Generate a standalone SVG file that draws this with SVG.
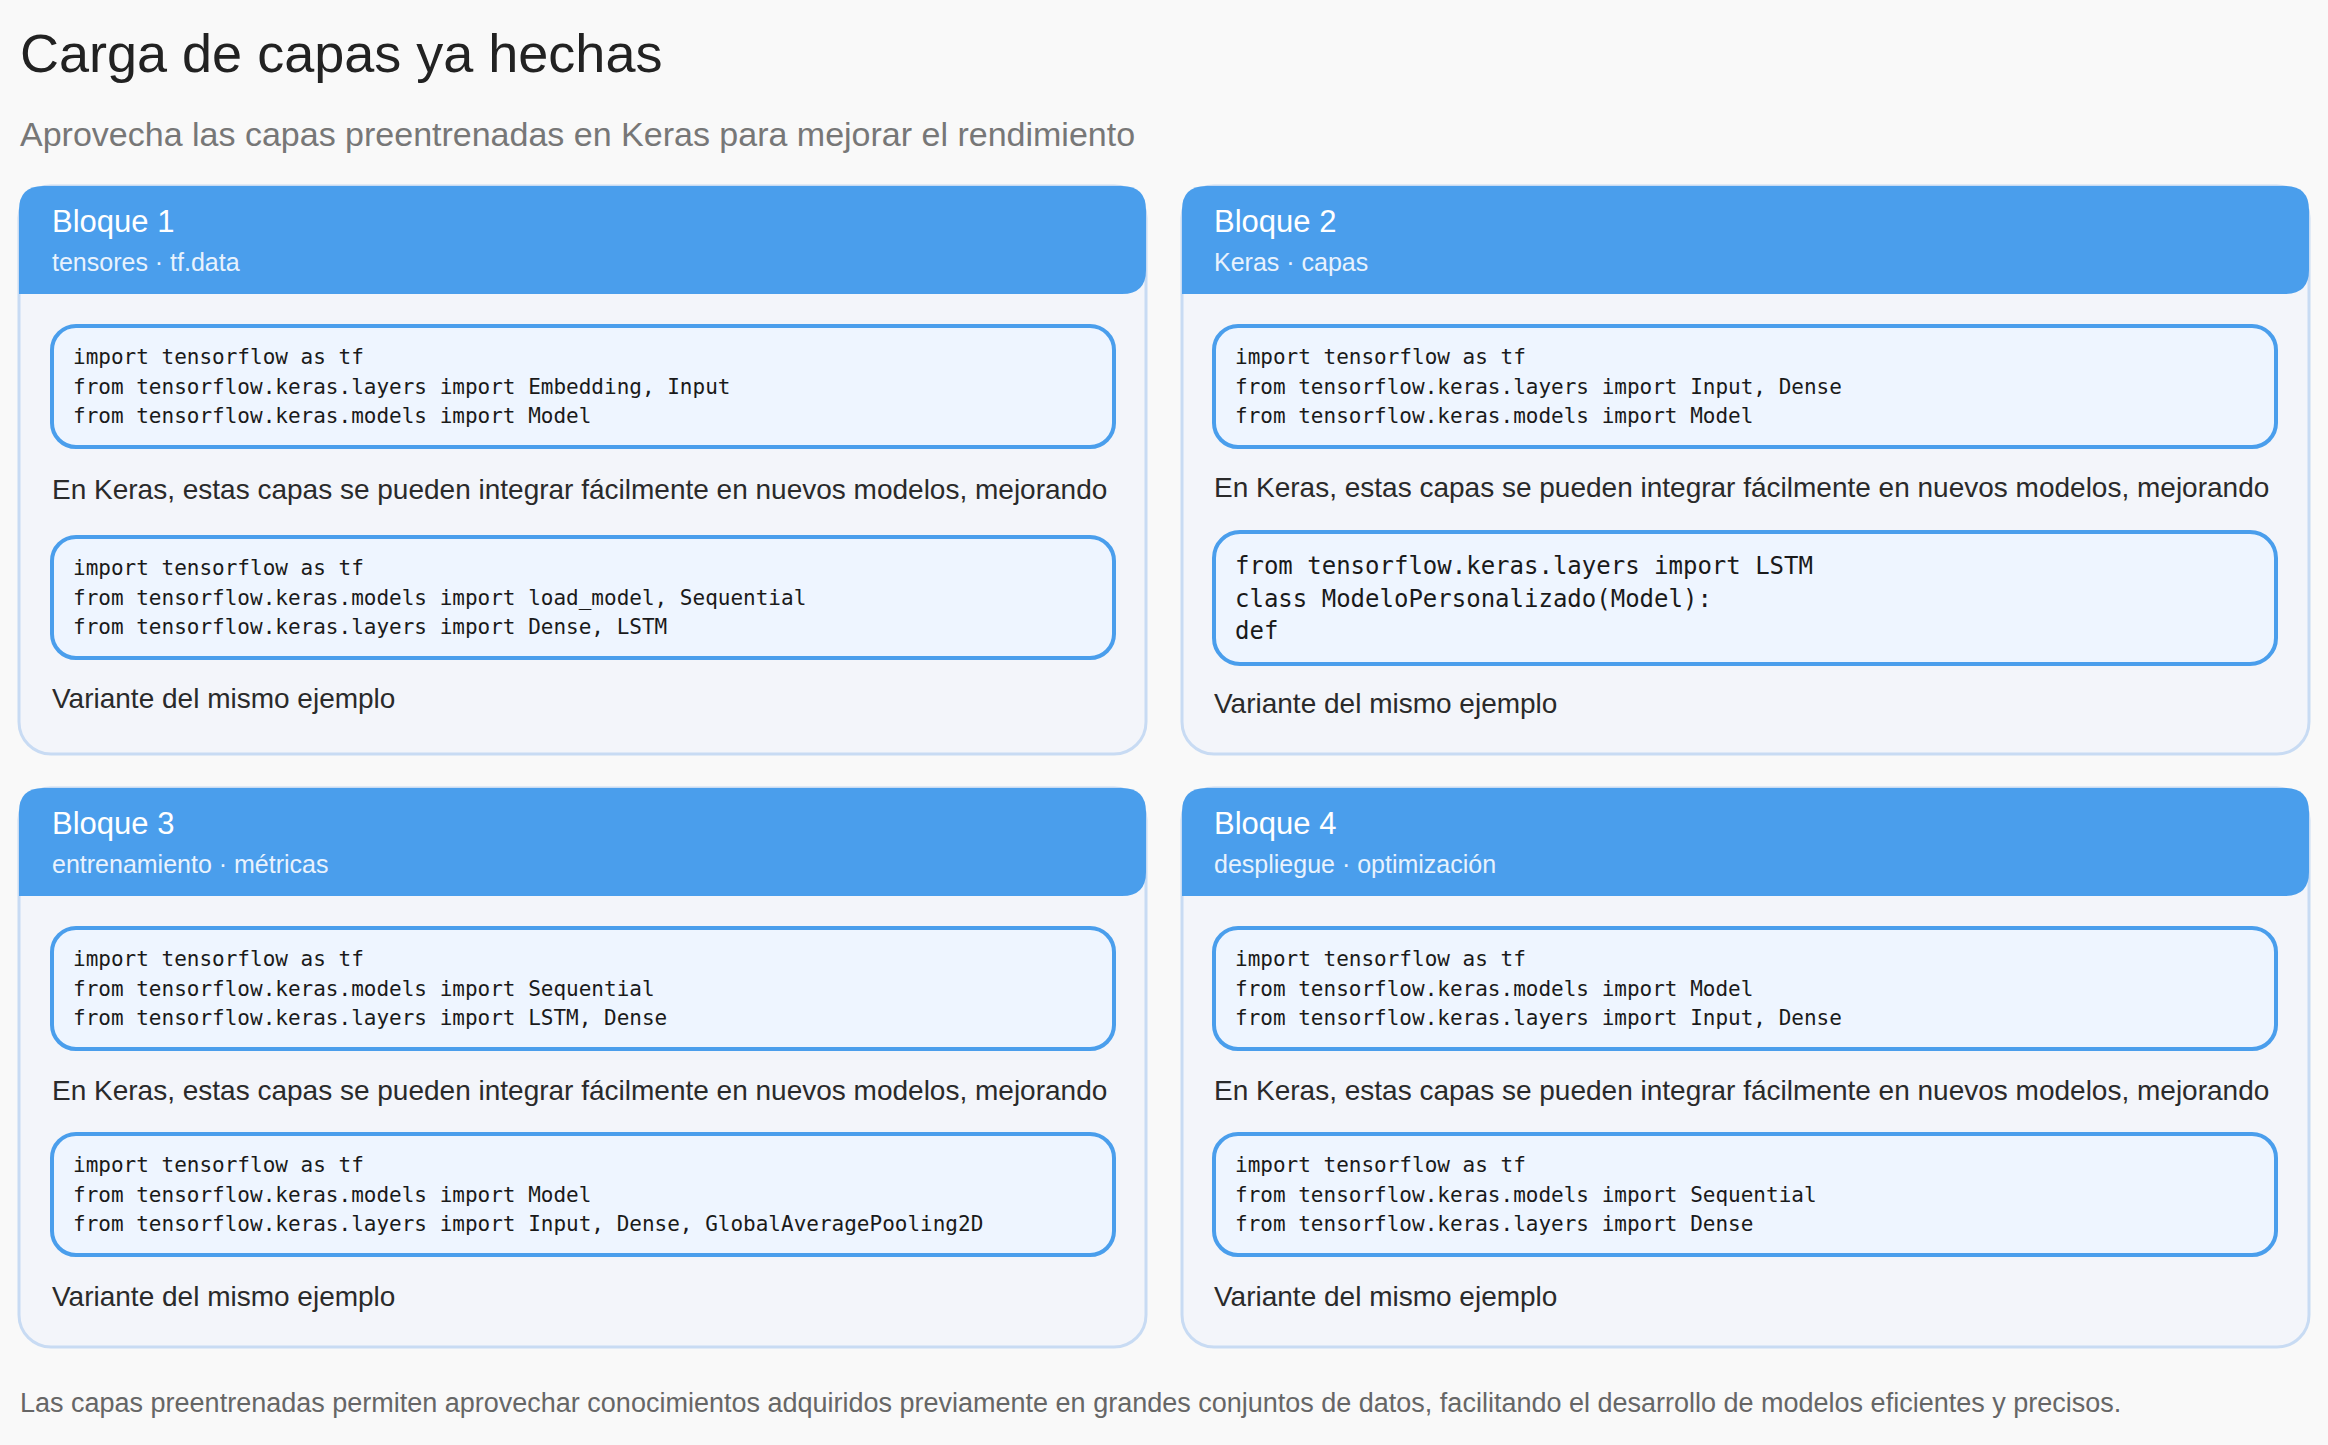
<svg xmlns="http://www.w3.org/2000/svg" width="2328" height="1445" viewBox="0 0 2328 1445">
<style>
.card{fill:#f3f5fa;stroke:#c8dbf3;stroke-width:3}
.hdr{fill:#4a9eec}
.code{fill:#eef5ff;stroke:#4a9eec;stroke-width:4}
.ht{font-family:"Liberation Sans",Arial,sans-serif;font-size:31px;fill:#fff}
.hs{font-family:"Liberation Sans",Arial,sans-serif;font-size:25px;fill:#e8f2fd}
.m{font-family:"DejaVu Sans Mono",monospace;font-size:21px;fill:#1a1a1a}
.m2{font-family:"DejaVu Sans Mono",monospace;font-size:24px;fill:#1a1a1a}
.p{font-family:"Liberation Sans",Arial,sans-serif;font-size:28px;fill:#2a2a2a}
</style>
<rect width="2328" height="1445" fill="#f9f9f9"/>
<text x="20" y="72" font-family="Liberation Sans,Arial,sans-serif" font-size="54" fill="#222">Carga de capas ya hechas</text>
<text x="20" y="146" font-family="Liberation Sans,Arial,sans-serif" font-size="34" fill="#777">Aprovecha las capas preentrenadas en Keras para mejorar el rendimiento</text>

<g id="bloque1">
<rect class="card" x="19" y="186" width="1127" height="568" rx="32"/>
<path class="hdr" d="M43,186 H1122 Q1146,186 1146,210 V270 Q1146,294 1122,294 H19 V210 Q19,186 43,186 Z"/>
<text class="ht" x="52" y="232">Bloque 1</text>
<text class="hs" x="52" y="271">tensores · tf.data</text>
<rect class="code" x="52" y="326" width="1062" height="121" rx="24"/>
<text class="m" x="73" y="364">import tensorflow as tf</text>
<text class="m" x="73" y="394">from tensorflow.keras.layers import Embedding, Input</text>
<text class="m" x="73" y="423">from tensorflow.keras.models import Model</text>
<text class="p" x="52" y="499">En Keras, estas capas se pueden integrar fácilmente en nuevos modelos, mejorando</text>
<rect class="code" x="52" y="537" width="1062" height="121" rx="24"/>
<text class="m" x="73" y="575">import tensorflow as tf</text>
<text class="m" x="73" y="605">from tensorflow.keras.models import load_model, Sequential</text>
<text class="m" x="73" y="634">from tensorflow.keras.layers import Dense, LSTM</text>
<text class="p" x="52" y="708">Variante del mismo ejemplo</text>
</g>

<g id="bloque2">
<rect class="card" x="1182" y="186" width="1127" height="568" rx="32"/>
<path class="hdr" d="M1206,186 H2285 Q2309,186 2309,210 V270 Q2309,294 2285,294 H1182 V210 Q1182,186 1206,186 Z"/>
<text class="ht" x="1214" y="232">Bloque 2</text>
<text class="hs" x="1214" y="271">Keras · capas</text>
<rect class="code" x="1214" y="326" width="1062" height="121" rx="24"/>
<text class="m" x="1235" y="364">import tensorflow as tf</text>
<text class="m" x="1235" y="394">from tensorflow.keras.layers import Input, Dense</text>
<text class="m" x="1235" y="423">from tensorflow.keras.models import Model</text>
<text class="p" x="1214" y="497">En Keras, estas capas se pueden integrar fácilmente en nuevos modelos, mejorando</text>
<rect class="code" x="1214" y="532" width="1062" height="132" rx="26"/>
<text class="m2" x="1235" y="574">from tensorflow.keras.layers import LSTM</text>
<text class="m2" x="1235" y="607">class ModeloPersonalizado(Model):</text>
<text class="m2" x="1235" y="639">def</text>
<text class="p" x="1214" y="713">Variante del mismo ejemplo</text>
</g>

<g id="bloque3">
<rect class="card" x="19" y="788" width="1127" height="559" rx="32"/>
<path class="hdr" d="M43,788 H1122 Q1146,788 1146,812 V872 Q1146,896 1122,896 H19 V812 Q19,788 43,788 Z"/>
<text class="ht" x="52" y="834">Bloque 3</text>
<text class="hs" x="52" y="873">entrenamiento · métricas</text>
<rect class="code" x="52" y="928" width="1062" height="121" rx="24"/>
<text class="m" x="73" y="966">import tensorflow as tf</text>
<text class="m" x="73" y="996">from tensorflow.keras.models import Sequential</text>
<text class="m" x="73" y="1025">from tensorflow.keras.layers import LSTM, Dense</text>
<text class="p" x="52" y="1100">En Keras, estas capas se pueden integrar fácilmente en nuevos modelos, mejorando</text>
<rect class="code" x="52" y="1134" width="1062" height="121" rx="24"/>
<text class="m" x="73" y="1172">import tensorflow as tf</text>
<text class="m" x="73" y="1202">from tensorflow.keras.models import Model</text>
<text class="m" x="73" y="1231">from tensorflow.keras.layers import Input, Dense, GlobalAveragePooling2D</text>
<text class="p" x="52" y="1306">Variante del mismo ejemplo</text>
</g>

<g id="bloque4">
<rect class="card" x="1182" y="788" width="1127" height="559" rx="32"/>
<path class="hdr" d="M1206,788 H2285 Q2309,788 2309,812 V872 Q2309,896 2285,896 H1182 V812 Q1182,788 1206,788 Z"/>
<text class="ht" x="1214" y="834">Bloque 4</text>
<text class="hs" x="1214" y="873">despliegue · optimización</text>
<rect class="code" x="1214" y="928" width="1062" height="121" rx="24"/>
<text class="m" x="1235" y="966">import tensorflow as tf</text>
<text class="m" x="1235" y="996">from tensorflow.keras.models import Model</text>
<text class="m" x="1235" y="1025">from tensorflow.keras.layers import Input, Dense</text>
<text class="p" x="1214" y="1100">En Keras, estas capas se pueden integrar fácilmente en nuevos modelos, mejorando</text>
<rect class="code" x="1214" y="1134" width="1062" height="121" rx="24"/>
<text class="m" x="1235" y="1172">import tensorflow as tf</text>
<text class="m" x="1235" y="1202">from tensorflow.keras.models import Sequential</text>
<text class="m" x="1235" y="1231">from tensorflow.keras.layers import Dense</text>
<text class="p" x="1214" y="1306">Variante del mismo ejemplo</text>
</g>

<g id="connectors"></g>
<text x="20" y="1412" font-family="Liberation Sans,Arial,sans-serif" font-size="27" fill="#666">Las capas preentrenadas permiten aprovechar conocimientos adquiridos previamente en grandes conjuntos de datos, facilitando el desarrollo de modelos eficientes y precisos.</text>
</svg>
